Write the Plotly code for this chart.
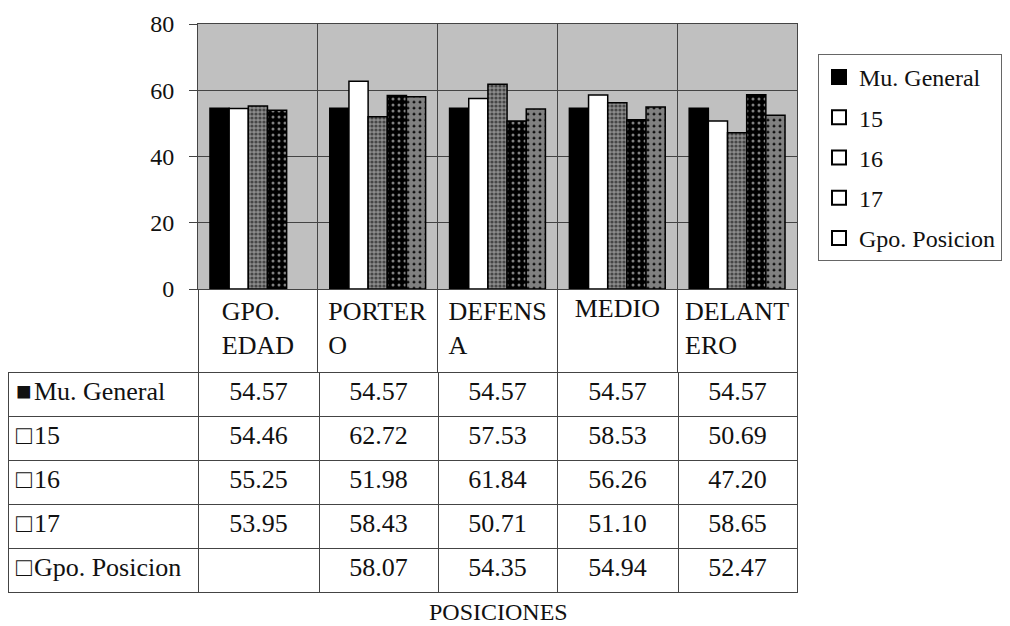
import plotly.graph_objects as go

categories = ["GPO. EDAD", "PORTERO", "DEFENSA", "MEDIO", "DELANTERO"]
header_labels = ["GPO.<br>EDAD", "PORTER<br>O", "DEFENS<br>A", "MEDIO", "DELANT<br>ERO"]
series_names = ["Mu. General", "15", "16", "17", "Gpo. Posicion"]
mu_general = [54.57, 54.57, 54.57, 54.57, 54.57]
edad_15 = [54.46, 62.72, 57.53, 58.53, 50.69]
edad_16 = [55.25, 51.98, 61.84, 56.26, 47.20]
edad_17 = [53.95, 58.43, 50.71, 51.10, 58.65]
gpo_posicion = [None, 58.07, 54.35, 54.94, 52.47]
series_values = [mu_general, edad_15, edad_16, edad_17, gpo_posicion]
row_markers = ["■", "□", "□", "□", "□"]

FONT = "Liberation Serif, Times New Roman, serif"
W, H = 1010, 626
OFF = 8  # page body margin


def px(x):
    return min(1, max(0, (x - OFF) / W))


def py(y):
    return min(1, max(0, 1 - (y - OFF) / H))


patterns = [
    dict(shape="", bgcolor="#000000"),
    dict(shape="", bgcolor="#ffffff"),
    dict(shape=".", bgcolor="#8c8c8c", fgcolor="#000000", size=4, solidity=0.5),
    dict(shape=".", bgcolor="#000000", fgcolor="#ffffff", size=6, solidity=0.2),
    dict(shape=".", bgcolor="#000000", fgcolor="#ffffff", size=6, solidity=0.8),
]
fills = ["#000000", "#ffffff", "#777777", "#222222", "#aaaaaa"]

fig = go.Figure()

for name, vals, pat, fc in zip(series_names, series_values, patterns, fills):
    fig.add_trace(go.Bar(
        x=categories, y=vals, name=name, showlegend=False,
        marker=dict(color=fc, pattern=pat, line=dict(color="#000000", width=1.5)),
        hoverinfo="x+y+name",
    ))

# legend entries drawn like the original (filled / hollow squares)
for i, name in enumerate(series_names):
    fig.add_trace(go.Scatter(
        x=[None], y=[None], mode="markers", name=name, legendgroup=f"g{i}",
        marker=dict(symbol="square" if i == 0 else "square-open", size=14,
                    color="#000000", line=dict(color="#000000", width=2)),
    ))


def fmt(v):
    return "" if v is None else f"{v:.2f}"


row_labels = [f"{m}\u200a{n}" for m, n in zip(row_markers, series_names)]
columns = [row_labels] + [[fmt(s[j]) for s in series_values] for j in range(len(categories))]

tfont = dict(family=FONT, size=26, color="#111111")
tline = dict(color="#444444", width=1)

# category header row
fig.add_trace(go.Table(
    domain=dict(x=[px(198), px(797)], y=[py(372), py(289)]),
    header=dict(values=header_labels, height=83, align="center",
                fill=dict(color="#ffffff"), line=tline, font=tfont),
    cells=dict(values=[[] for _ in categories], height=0),
))

# body rows (first row used as header so no extra header appears)
fig.add_trace(go.Table(
    domain=dict(x=[px(8), px(797)], y=[0, py(372)]),
    columnwidth=[190, 121, 119, 119, 121, 119],
    header=dict(values=[c[0] for c in columns], height=44,
                align=["left"] + ["center"] * 5,
                fill=dict(color="#ffffff"), line=tline, font=tfont),
    cells=dict(values=[c[1:] for c in columns], height=44,
               align=["left"] + ["center"] * 5,
               fill=dict(color="#ffffff"), line=tline, font=tfont),
))

fig.update_layout(
    width=W, height=H,
    margin=dict(l=0, r=0, t=0, b=0, autoexpand=False),
    paper_bgcolor="#ffffff",
    plot_bgcolor="#c0c0c0",
    barmode="group", bargap=0.2, bargroupgap=0,
    font=dict(family=FONT, size=26, color="#111111"),
    xaxis=dict(domain=[px(198), px(797)], type="category", tickson="boundaries",
               showticklabels=False, ticks="", showgrid=True, automargin=False,
               gridcolor="#444444", gridwidth=1,
               showline=True, linecolor="#444444", mirror=True),
    yaxis=dict(domain=[py(289), py(24)], range=[0, 80], dtick=20,
               ticks="outside", ticklen=8, tickcolor="#444444", automargin=False,
               tickfont=dict(size=24, family=FONT), ticklabelstandoff=10,
               showgrid=True, gridcolor="#444444", gridwidth=1,
               showline=True, linecolor="#444444", mirror=True, zeroline=False),
    legend=dict(x=px(818), y=py(54), xanchor="left", yanchor="top",
                bordercolor="#666666", borderwidth=1, bgcolor="#ffffff",
                font=dict(family=FONT, size=24), tracegroupgap=6,
                itemwidth=30),
    annotations=[dict(text="POSICIONES", x=px(498), y=py(612),
                      xref="paper", yref="paper", showarrow=False,
                      xanchor="center", yanchor="middle",
                      font=dict(family=FONT, size=24))],
)

fig.write_html("out.html")
